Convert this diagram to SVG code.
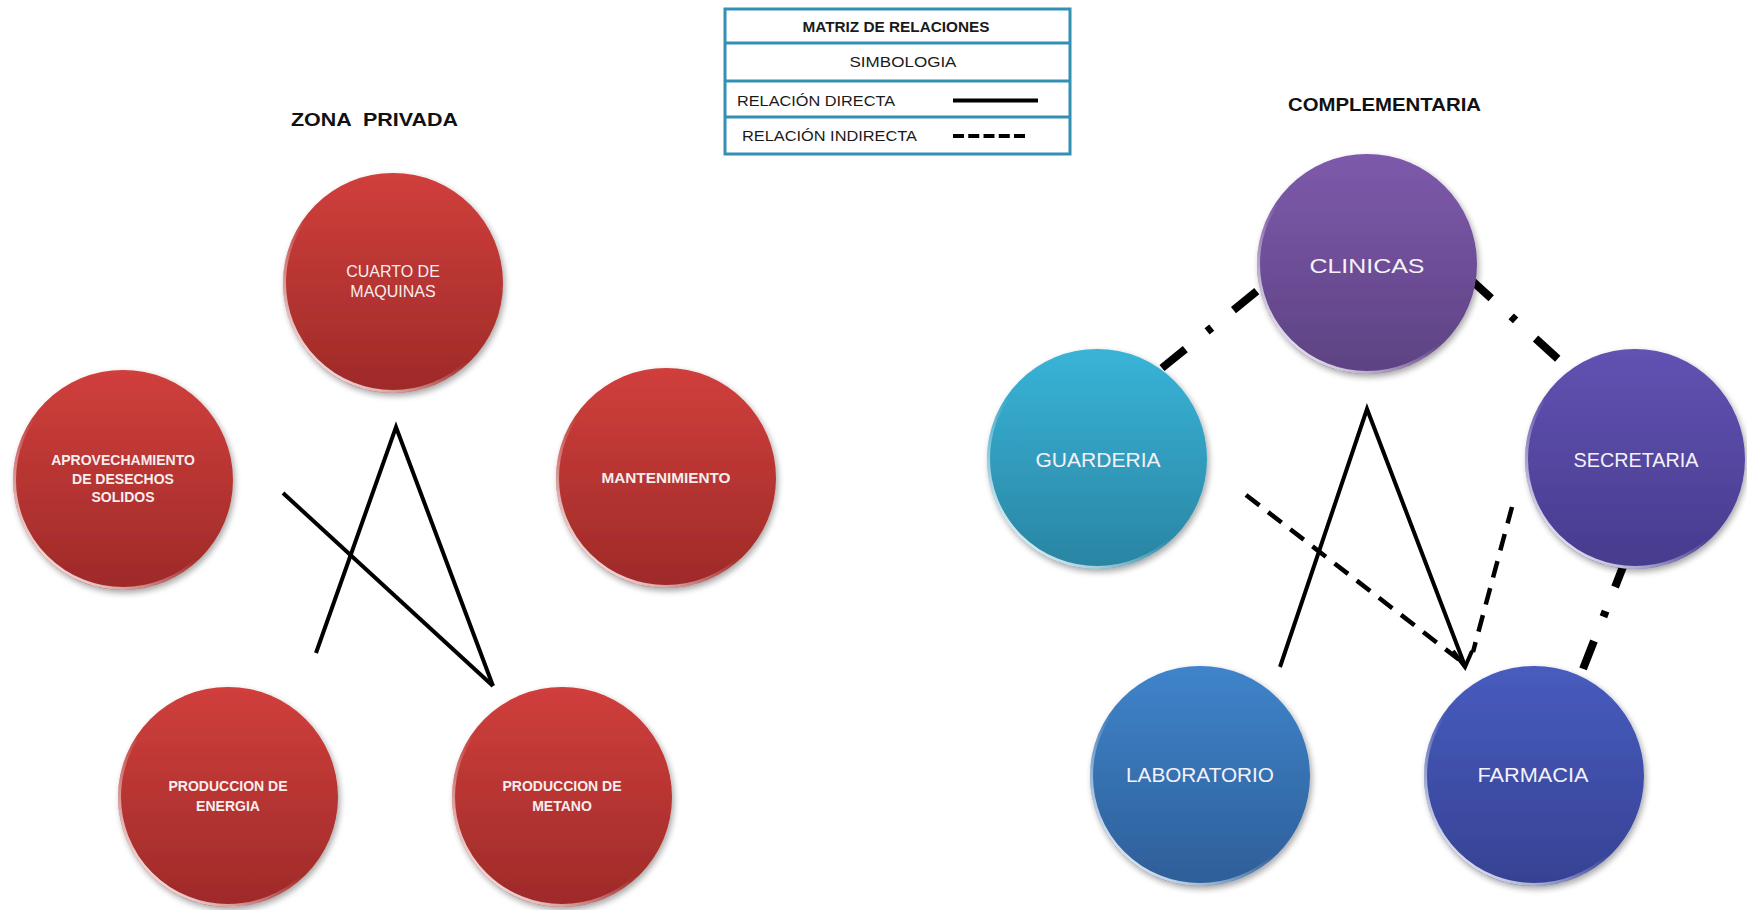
<svg xmlns="http://www.w3.org/2000/svg" width="1747" height="910" viewBox="0 0 1747 910">
  <style>
    .legend-box { fill: none; stroke: #3190b4; stroke-width: 3; }
    .legend-txt { font-family: "Liberation Sans", Arial, sans-serif; font-size: 15px; fill: #1a1a1a; }
    .title { font-family: "Liberation Sans", Arial, sans-serif; font-weight: bold; fill: #111; }
    .ball { filter: url(#shadow); }
    .rim { fill: none; stroke: url(#rim); stroke-width: 3; }
    .lbl-bold { font-family: "Liberation Sans", Arial, sans-serif; font-weight: bold; font-size: 14px; fill: #f6eeee; text-anchor: middle; }
    .lbl-thin { font-family: "Liberation Sans", Arial, sans-serif; font-size: 16px; fill: #f6eeee; text-anchor: middle; }
    .lbl-big { font-family: "Liberation Sans", Arial, sans-serif; font-size: 21px; fill: #f4f2f8; text-anchor: middle; }
    .direct { fill: none; stroke: #000; stroke-width: 4; stroke-linejoin: miter; }
    .indirect { fill: none; stroke: #000; stroke-width: 4.5; stroke-dasharray: 17 11; }
    .dashdot { fill: none; stroke: #000; stroke-width: 8; }
  </style>
  <defs>
    <filter id="shadow" x="-20%" y="-20%" width="140%" height="140%">
      <feGaussianBlur in="SourceAlpha" stdDeviation="3"/>
      <feOffset dx="2" dy="3"/>
      <feComponentTransfer><feFuncA type="linear" slope="0.35"/></feComponentTransfer>
      <feMerge><feMergeNode/><feMergeNode in="SourceGraphic"/></feMerge>
    </filter>
    <linearGradient id="rim" x1="0.85" y1="0.1" x2="0.15" y2="0.9">
      <stop offset="0" stop-color="#fff" stop-opacity="0"/>
      <stop offset="0.55" stop-color="#fff" stop-opacity="0"/>
      <stop offset="1" stop-color="#fff" stop-opacity="0.85"/>
    </linearGradient>
    <linearGradient id="g-red" x1="0" y1="0" x2="0" y2="1">
      <stop offset="0" stop-color="#d03f3c"/>
      <stop offset="1" stop-color="#9e2a28"/>
    </linearGradient>
    <linearGradient id="g-violet" x1="0" y1="0" x2="0" y2="1">
      <stop offset="0" stop-color="#7e5aab"/>
      <stop offset="1" stop-color="#5d4283"/>
    </linearGradient>
    <linearGradient id="g-cyan" x1="0" y1="0" x2="0" y2="1">
      <stop offset="0" stop-color="#38b4d8"/>
      <stop offset="1" stop-color="#2a84a2"/>
    </linearGradient>
    <linearGradient id="g-indigo" x1="0" y1="0" x2="0" y2="1">
      <stop offset="0" stop-color="#6252b2"/>
      <stop offset="1" stop-color="#463b8e"/>
    </linearGradient>
    <linearGradient id="g-blue" x1="0" y1="0" x2="0" y2="1">
      <stop offset="0" stop-color="#3f84cb"/>
      <stop offset="1" stop-color="#2e5e98"/>
    </linearGradient>
    <linearGradient id="g-navy" x1="0" y1="0" x2="0" y2="1">
      <stop offset="0" stop-color="#475cbe"/>
      <stop offset="1" stop-color="#364293"/>
    </linearGradient>
  </defs>

  <rect width="1747" height="910" fill="#fff"/>

  <!-- legend table -->
  <g id="legend">
    <rect class="legend-box" x="725" y="9" width="345" height="145"/>
    <line class="legend-box" x1="725" y1="43" x2="1070" y2="43"/>
    <line class="legend-box" x1="725" y1="81" x2="1070" y2="81"/>
    <line class="legend-box" x1="725" y1="117" x2="1070" y2="117"/>
    <text class="legend-txt" x="896" y="32" text-anchor="middle" font-weight="bold" textLength="187" lengthAdjust="spacingAndGlyphs">MATRIZ DE RELACIONES</text>
    <text class="legend-txt" x="903" y="67" text-anchor="middle" textLength="107" lengthAdjust="spacingAndGlyphs">SIMBOLOGIA</text>
    <text class="legend-txt" x="737" y="106" textLength="158" lengthAdjust="spacingAndGlyphs">RELACIÓN DIRECTA</text>
    <line x1="953" y1="100.5" x2="1038" y2="100.5" stroke="#000" stroke-width="4"/>
    <text class="legend-txt" x="742" y="141" textLength="175" lengthAdjust="spacingAndGlyphs">RELACIÓN INDIRECTA</text>
    <line x1="953" y1="136" x2="1025" y2="136" stroke="#000" stroke-width="4" stroke-dasharray="11 4.25"/>
  </g>

  <!-- section titles -->
  <text class="title" x="374.5" y="126" font-size="19" text-anchor="middle" textLength="167" lengthAdjust="spacingAndGlyphs" xml:space="preserve">ZONA  PRIVADA</text>
  <text class="title" x="1384.5" y="111" font-size="19" text-anchor="middle" textLength="193" lengthAdjust="spacingAndGlyphs">COMPLEMENTARIA</text>

  <!-- connectors -->
  <g id="connectors">
    <!-- private zone -->
    <polyline class="direct" points="316,653 396,427 493,686"/>
    <line class="direct" x1="283" y1="493" x2="493" y2="686"/>
    <!-- complementary zone -->
    <polyline class="direct" points="1280,667 1367,409 1465,666"/>
    <polyline class="direct" points="1453,651 1465,667 1472,651"/>
    <line class="indirect" x1="1246" y1="495" x2="1462" y2="662"/>
    <line class="indirect" x1="1512" y1="507" x2="1473" y2="652"/>
    <line class="dashdot" x1="1162" y1="368" x2="1257" y2="291" stroke-dasharray="30 28 6 28 30"/>
    <line class="dashdot" x1="1469" y1="278" x2="1558" y2="359" stroke-dasharray="30 27 6 27 30"/>
    <line class="dashdot" x1="1626" y1="559" x2="1583" y2="669" stroke-dasharray="30 26 6 26 30"/>
  </g>

  <!-- private zone nodes -->
  <g id="cuarto-maquinas">
    <circle class="ball" cx="393" cy="283" r="110" fill="url(#g-red)"/>
    <circle class="rim" cx="393" cy="283" r="108.5"/>
    <text class="lbl-thin" x="393" y="277">CUARTO DE</text>
    <text class="lbl-thin" x="393" y="297">MAQUINAS</text>
  </g>
  <g id="aprovechamiento">
    <circle class="ball" cx="123" cy="480" r="110" fill="url(#g-red)"/>
    <circle class="rim" cx="123" cy="480" r="108.5"/>
    <text class="lbl-bold" x="123" y="465">APROVECHAMIENTO</text>
    <text class="lbl-bold" x="123" y="484">DE DESECHOS</text>
    <text class="lbl-bold" x="123" y="502">SOLIDOS</text>
  </g>
  <g id="mantenimiento">
    <circle class="ball" cx="666" cy="478" r="110" fill="url(#g-red)"/>
    <circle class="rim" cx="666" cy="478" r="108.5"/>
    <text class="lbl-bold" x="666" y="483" textLength="129" lengthAdjust="spacingAndGlyphs">MANTENIMIENTO</text>
  </g>
  <g id="produccion-energia">
    <circle class="ball" cx="228" cy="797" r="110" fill="url(#g-red)"/>
    <circle class="rim" cx="228" cy="797" r="108.5"/>
    <text class="lbl-bold" x="228" y="791">PRODUCCION DE</text>
    <text class="lbl-bold" x="228" y="811">ENERGIA</text>
  </g>
  <g id="produccion-metano">
    <circle class="ball" cx="562" cy="797" r="110" fill="url(#g-red)"/>
    <circle class="rim" cx="562" cy="797" r="108.5"/>
    <text class="lbl-bold" x="562" y="791">PRODUCCION DE</text>
    <text class="lbl-bold" x="562" y="811">METANO</text>
  </g>

  <!-- complementary zone nodes -->
  <g id="clinicas">
    <circle class="ball" cx="1367" cy="264" r="110" fill="url(#g-violet)"/>
    <circle class="rim" cx="1367" cy="264" r="108.5"/>
    <text class="lbl-big" x="1367" y="273" font-size="24" textLength="115" lengthAdjust="spacingAndGlyphs">CLINICAS</text>
  </g>
  <g id="guarderia">
    <circle class="ball" cx="1097" cy="459" r="110" fill="url(#g-cyan)"/>
    <circle class="rim" cx="1097" cy="459" r="108.5"/>
    <text class="lbl-big" x="1098" y="467" textLength="125" lengthAdjust="spacingAndGlyphs">GUARDERIA</text>
  </g>
  <g id="secretaria">
    <circle class="ball" cx="1635" cy="459" r="110" fill="url(#g-indigo)"/>
    <circle class="rim" cx="1635" cy="459" r="108.5"/>
    <text class="lbl-big" x="1636" y="467" textLength="125" lengthAdjust="spacingAndGlyphs">SECRETARIA</text>
  </g>
  <g id="laboratorio">
    <circle class="ball" cx="1200" cy="776" r="110" fill="url(#g-blue)"/>
    <circle class="rim" cx="1200" cy="776" r="108.5"/>
    <text class="lbl-big" x="1200" y="782" textLength="148" lengthAdjust="spacingAndGlyphs">LABORATORIO</text>
  </g>
  <g id="farmacia">
    <circle class="ball" cx="1534" cy="776" r="110" fill="url(#g-navy)"/>
    <circle class="rim" cx="1534" cy="776" r="108.5"/>
    <text class="lbl-big" x="1533" y="782" textLength="111" lengthAdjust="spacingAndGlyphs">FARMACIA</text>
  </g>
</svg>
